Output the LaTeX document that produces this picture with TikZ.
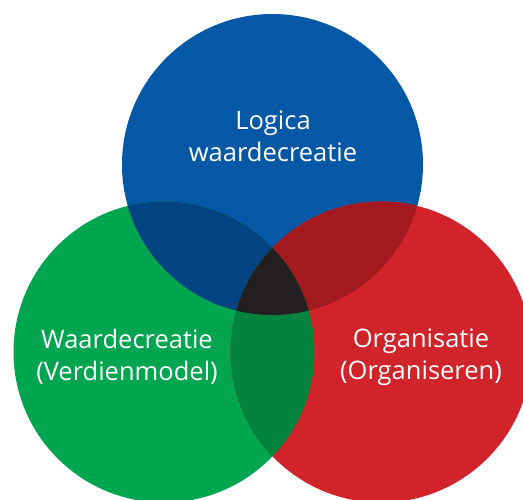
\documentclass[tikz,border=0pt]{standalone}
\usepackage{fontspec}
\setmainfont{Open Sans}
\definecolor{logicablue}{HTML}{0558A5}
\definecolor{waardegreen}{HTML}{00A550}
\definecolor{organred}{HTML}{D0232A}
\definecolor{bluegreen}{HTML}{034382}
\definecolor{bluered}{HTML}{A3191E}
\definecolor{greenred}{HTML}{00843D}
\definecolor{allthree}{HTML}{231F20}
\tikzset{
  circletext/.style={text=white, align=center, inner sep=0pt,
    font=\fontsize{25.5}{32}\selectfont}
}

\begin{document}
\begin{tikzpicture}[x=1pt,y=-1pt]
    \useasboundingbox (0,0) rectangle (523,499);
    \coordinate (logica) at (272.5,164.5);
    \coordinate (waarde) at (164,352);
    \coordinate (organ) at (381,352);
    \fill[logicablue] (logica) circle[radius=150.5];
    \fill[waardegreen] (waarde) circle[radius=150.5];
    \fill[organred] (organ) circle[radius=150.5];
    % overlaps
    \begin{scope}
      \clip (logica) circle[radius=150.5];
      \fill[bluegreen] (waarde) circle[radius=150.5];
      \fill[bluered] (organ) circle[radius=150.5];
    \end{scope}
    \begin{scope}
      \clip (waarde) circle[radius=150.5];
      \fill[greenred] (organ) circle[radius=150.5];
    \end{scope}
    \begin{scope}
      \clip (logica) circle[radius=150.5];
      \clip (waarde) circle[radius=150.5];
      \fill[allthree] (organ) circle[radius=150.5];
    \end{scope}
    \node[circletext] (logicalabel) at (273,136) {Logica\\waardecreatie};
    \node[circletext] (waardelabel) at (127,357) {Waardecreatie\\(Verdienmodel)};
    \node[circletext] (organlabel) at (421,357) {Organisatie\\(Organiseren)};
  \end{tikzpicture}
\end{document}
